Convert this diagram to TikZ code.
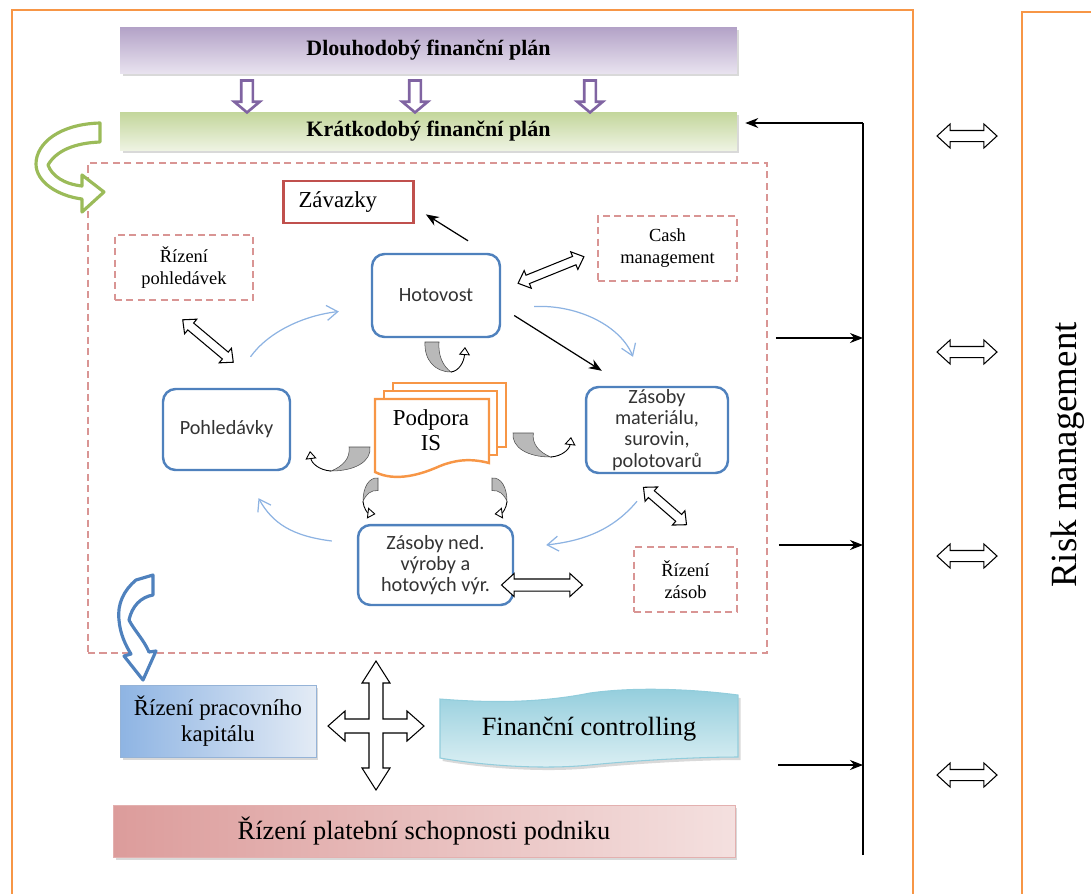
\documentclass[tikz,border=0pt]{standalone}
\usepackage{fontspec}
\setmainfont{Liberation Serif}
\newfontfamily\calibfont{Carlito}
\usepackage{xcolor}
\usepackage{tikz}
\usetikzlibrary{%
  shapes.arrows,
  shapes.geometric,
  arrows.meta,
  calc,
  shadows}
\definecolor{frameorange}{HTML}{F79646}
\definecolor{dashred}{HTML}{D99594}
\definecolor{boxblue}{HTML}{4F81BD}
\definecolor{zavred}{HTML}{C0504D}
\definecolor{cycblue}{HTML}{8DB3E2}
\definecolor{plum}{HTML}{8064A2}
\definecolor{greenarr}{HTML}{9BBB59}
\definecolor{purpletop}{HTML}{B3A2C7}
\definecolor{purplebot}{HTML}{E8E2EF}
\definecolor{greentop}{HTML}{C3D69B}
\definecolor{greenbot}{HTML}{EEF3E2}
\definecolor{redleft}{HTML}{DC9C9B}
\definecolor{redright}{HTML}{F4E0DF}
\definecolor{bluetop}{HTML}{8EB4E3}
\definecolor{bluebot}{HTML}{E3EBF5}
\definecolor{cyantop}{HTML}{92CDDC}
\definecolor{cyanbot}{HTML}{DDF0F4}
\tikzset{
  %% Plan bars
  planbar/.style={
    rectangle, inner sep=0pt,
    minimum width=12.34cm,
    font=\fontsize{12.5}{14}\selectfont\bfseries,
    drop shadow={shadow xshift=0.05cm, shadow yshift=-0.06cm, opacity=0.3}},
  %% Working capital items
  cyclebox/.style={
    rectangle, rounded corners=0.25cm,
    draw=boxblue, line width=1.4pt, fill=white,
    align=center, inner sep=0pt, text=black!80,
    font=\calibfont\fontsize{11.5}{12}\selectfont},
  %% Management boxes
  mgmtbox/.style={
    rectangle, dash pattern=on 4pt off 2.5pt,
    draw=dashred, line width=1.1pt,
    align=center, inner sep=0pt,
    font=\fontsize{10.5}{12.5}\selectfont},
  %% Hollow arrows
  hollowarr/.style={
    double arrow, draw=black, fill=white,
    line width=0.6pt, inner xsep=0pt,
    double arrow tip angle=85},
  downarr/.style={
    single arrow, draw=plum, fill=white,
    line width=1.5pt, inner xsep=0.09cm, inner ysep=0pt,
    shape border rotate=270,
    minimum height=0.64cm,
    single arrow head extend=0.14cm,
    single arrow tip angle=100},
  %% Arrows
  cycarrow/.style={-{Straight Barb[length=2.2mm, width=3mm]}, cycblue, line width=0.7pt},
  arrow/.style={-{Stealth[length=2.6mm, width=2mm]}, line width=0.7pt, black},
  docline/.style={draw=frameorange, line width=1.4pt, fill=white},
  orframe/.style={draw=frameorange, line width=0.9pt},
  %% Curved grey arrow
  turnarr/.pic={
    \filldraw[fill=gray!55, draw=gray!60!black, line width=0.3pt]
      (0,0) .. controls (-1,18) and (10,30) .. (26,30)
      .. controls (18,24) and (13,14) .. (14,0) -- cycle;
    \draw[line width=0.5pt, -{Triangle[open, length=1.6mm, width=2.2mm]}]
      (26,30) .. controls (34,29) and (39,20) .. (40,5);
  },
}
\begin{document}
\begin{tikzpicture}[x=0.02cm, y=-0.02cm]
  \useasboundingbox (0,0) rectangle (1091,893);
  \clip (0,0) rectangle (1091,893);

  %% Frames
  \draw[orframe] (12,10) rectangle (913,905);
  \draw[orframe] (1022,12) rectangle (1100,905);

  %% Plans
  \node[planbar, minimum height=0.92cm, top color=purpletop, bottom color=purplebot]
    (dlp) at (428.5,50) {Dlouhodobý finanční plán};
  \node[planbar, minimum height=0.76cm, top color=greentop, bottom color=greenbot]
    (klp) at (428.5,131) {Krátkodobý finanční plán};
  \foreach \x/\n in {247/1, 415/2, 590/3}
    \node[downarr] (down\n) at (\x,94) {};

  %% Working capital area
  \node[draw=dashred, dash pattern=on 4pt off 2.5pt, line width=1.1pt,
    minimum width=13.58cm, minimum height=9.8cm] (wcbox) at (427.5,408) {};
  \draw[draw=greenarr, line width=1.8pt, fill=white, line join=round]
    (100,123) .. controls (60,124) and (36,143) .. (36,164)
    .. controls (36,182) and (58,196) .. (82,199)
    -- (82,212) -- (104,192) -- (82,175) -- (82,186)
    .. controls (64,184) and (52,176) .. (48,165)
    .. controls (56,151) and (74,143) .. (100,142) -- cycle;

  \node[draw=zavred, line width=1.6pt, minimum height=0.84cm, text width=2.0cm,
    inner xsep=0.3cm, align=left, font=\fontsize{13}{15}\selectfont]
    (zav) at (348.5,202) {Závazky};
  \node[mgmtbox, minimum width=2.76cm, minimum height=1.3cm]
    (rpoh) at (184,267.5) {Řízení\\pohledávek};
  \node[mgmtbox, minimum width=2.78cm, minimum height=1.3cm]
    (cash) at (667.5,248.5) {Cash\\management};
  \node[mgmtbox, minimum width=2.06cm, minimum height=1.3cm]
    (rzas) at (685.5,579.5) {Řízení\\zásob};

  \node[cyclebox, minimum width=2.56cm, minimum height=1.66cm]
    (hot) at (436,295.5) {Hotovost};
  \node[cyclebox, minimum width=2.54cm, minimum height=1.62cm]
    (pohl) at (226.5,429.5) {Pohledávky};
  \node[cyclebox, minimum width=2.84cm, minimum height=1.72cm]
    (zmat) at (657,430) {Zásoby\\materiálu,\\surovin,\\polotovarů};
  \node[cyclebox, minimum width=3.1cm, minimum height=1.6cm]
    (zned) at (435.5,565) {Zásoby ned.\\výroby a\\hotových výr.};

  %% Podpora IS
  \draw[docline] (393,383) rectangle (506,447);
  \draw[docline] (384,391) rectangle (497,455);
  \draw[docline] (375,399) -- (489,399) -- (489,463)
    .. controls (470,458) and (455,460) .. (440,466)
    .. controls (420,475) and (395,482) .. (375,472) -- cycle;
  \node[align=center, font=\fontsize{13}{14}\selectfont] (podp) at (431,430) {Podpora\\IS};

  \pic at (425,342) {turnarr};
  \pic[xscale=1.45, yscale=0.8] at (513,433) {turnarr};
  \pic[xscale=-1.5, yscale=0.8] at (370,447) {turnarr};
  \pic[rotate=-90, xscale=0.9, yscale=0.5] at (378,478) {turnarr};
  \pic[rotate=-90, xscale=0.9, yscale=-0.5] at (492,478) {turnarr};

  %% Cycle
  \draw[cycarrow] ($(pohl.north)+(24,-31)$) .. controls +(18,-25) and +(-35,4) .. ($(hot.west)+(-32,16)$);
  \draw[cycarrow] ($(hot.east)+(33,11)$) .. controls +(45,-2) and +(-12,-30) .. ($(zmat.north)+(-24,-29)$);
  \draw[cycarrow] ($(zmat.south)+(-20,27)$) .. controls +(-25,30) and +(35,-4) .. ($(zned.east)+(32,-20)$);
  \draw[cycarrow] ($(zned.west)+(-25,-24)$) .. controls +(-40,-5) and +(14,25) .. ($(pohl.south)+(32,27)$);

  \draw[arrow] ($(hot.north)+(32,-12)$) -- ($(zav.south east)+(11,-10)$);
  \draw[arrow] ($(hot.east)+(13,20)$) -- ($(zmat.north west)+(17,-15)$);

  \node[hollowarr, minimum height=1.32cm, inner ysep=0.08cm,
    double arrow head extend=0.1cm, rotate=-40] (a1) at (208,341) {};
  \node[hollowarr, minimum height=1.42cm, inner ysep=0.08cm,
    double arrow head extend=0.1cm, rotate=22] (a2) at (551,270) {};
  \node[hollowarr, minimum height=1.14cm, inner ysep=0.08cm,
    double arrow head extend=0.1cm, rotate=-41] (a3) at (665,506) {};
  \node[hollowarr, minimum height=1.62cm, inner ysep=0.11cm,
    double arrow head extend=0.11cm] (a4) at (542,585) {};

  %% Lower part
  \draw[draw=boxblue, line width=1.8pt, fill=white, line join=round]
    (136,580) .. controls (124,590) and (117,604) .. (119,620)
    .. controls (120,634) and (126,646) .. (131,654)
    -- (124,656) -- (143,680) -- (156,651) -- (149,652)
    .. controls (144,640) and (134,630) .. (129,620)
    .. controls (132,606) and (141,597) .. (153,595) -- (153,575) -- cycle;

  \node[rectangle, draw=boxblue!60, line width=0.5pt,
    left color=bluetop, right color=bluebot,
    minimum width=3.92cm, minimum height=1.44cm, align=center,
    font=\fontsize{13}{15}\selectfont,
    drop shadow={shadow xshift=0.05cm, shadow yshift=-0.06cm, opacity=0.3}]
    (rpk) at (218,721) {Řízení pracovního\\kapitálu};

  \draw[fill=white, line width=0.6pt, line join=miter]
    (376,661) -- (390,683) -- (383,683) -- (383,719) -- (407,719) -- (407,711)
    -- (424,726) -- (407,741) -- (407,733) -- (383,733) -- (383,768) -- (390,768)
    -- (376,790) -- (362,768) -- (369,768) -- (369,733) -- (345,733) -- (345,741)
    -- (328,726) -- (345,711) -- (345,719) -- (369,719) -- (369,683) -- (362,683) -- cycle;

  \path[draw=cyantop, line width=0.6pt, top color=cyantop, bottom color=cyanbot,
    drop shadow={shadow xshift=0.05cm, shadow yshift=-0.06cm, opacity=0.3}]
    (440,699) .. controls (490,703) and (540,703) .. (590,693)
    .. controls (640,686) and (700,690) .. (738,695) -- (738,757)
    .. controls (700,757) and (640,760) .. (590,765)
    .. controls (540,770) and (480,765) .. (440,758) -- cycle;
  \node[font=\fontsize{15}{17}\selectfont] (fc) at (589,729) {Finanční controlling};

  \node[planbar, draw=redleft!80, line width=0.5pt, minimum width=12.44cm, minimum height=1.04cm,
    left color=redleft, right color=redright, font=\fontsize{15}{17}\selectfont]
    (rps) at (424,831) {Řízení platební schopnosti podniku};

  %% Feedback line
  \coordinate (rtop) at (863,123);
  \coordinate (rbot) at (863,855);
  \coordinate (r1) at (863,338);
  \coordinate (r2) at (863,545);
  \coordinate (r3) at (863,765);
  \coordinate (s3) at (778,765);
  \draw[line width=0.8pt] (rbot) -- (rtop);
  \draw[arrow] (rtop) -- ($(klp.east)+(8,-8)$);
  \draw[arrow] ($(wcbox.east |- r1)+(8,0)$) -- (r1);
  \draw[arrow] ($(wcbox.east |- r2)+(11,0)$) -- (r2);
  \draw[arrow] (s3) -- (r3);

  %% Risk management
  \foreach \y/\n in {136/1, 352/2, 556/3, 775/4}
    \node[hollowarr, minimum height=1.2cm, inner ysep=0.1cm,
      double arrow head extend=0.13cm] (rm\n) at (967,\y) {};
  \node[rotate=90, font=\fontsize{21}{24}\selectfont] (risk) at (1068,455) {Risk management};

\end{tikzpicture}
\end{document}
